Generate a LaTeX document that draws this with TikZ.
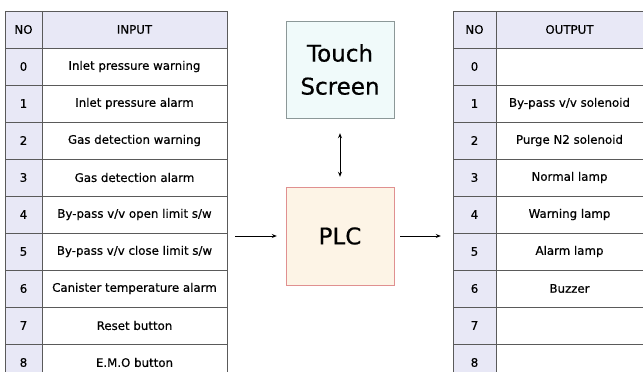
\documentclass[tikz,border=0pt]{standalone}
\usepackage{fontspec}
\setmainfont{DejaVu Sans}
\newfontface\cellfont{DejaVu Sans}[FakeBold=0.5]
\usetikzlibrary{arrows.meta,positioning}
\definecolor{HeadFill}{HTML}{E8E8F6}
\definecolor{GridLine}{HTML}{5A5A5A}
\definecolor{TouchFill}{HTML}{F0FAFA}
\definecolor{TouchLine}{HTML}{8C9898}
\definecolor{PlcFill}{HTML}{FDF4E6}
\definecolor{PlcLine}{HTML}{E09090}
\tikzset{>={Stealth[length=5pt,width=4pt]},every node/.style={font=\cellfont\fontsize{11.8}{13}\selectfont},
 nocell/.style={draw=GridLine,fill=HeadFill,minimum width=37pt,minimum height=37pt,inner sep=0pt},
 txtcell/.style={draw=GridLine,minimum width=185pt,minimum height=37pt,inner sep=0pt},
 headcell/.style={txtcell,fill=HeadFill},
 outno/.style={nocell,minimum width=43pt},
 outcell/.style={txtcell,minimum width=147pt},
 unit/.style={minimum width=108pt,minimum height=97pt,align=center,
 font=\cellfont\fontsize{23}{33}\selectfont},
 link/.style={draw=black,line width=0.9pt}}
\begin{document}
\begin{tikzpicture}[x=1pt,y=-1pt]
\useasboundingbox (0,0) rectangle (643,372);
\clip (0,0) rectangle (643,372);
\node[nocell] (inhno) at (23.5,29.5) {NO};
\node[headcell] (inh) at (134.5,29.5) {INPUT};
\foreach \t [count=\k from 0] in {Inlet pressure warning,Inlet pressure alarm,
 Gas detection warning,Gas detection alarm,By-pass v/v open limit s/w,
 By-pass v/v close limit s/w,Canister temperature alarm,Reset button,E.M.O button}{
 \node[nocell] (inno\k) at (23.5,66.5+37*\k) {\k};
 \node[txtcell] (in\k) at (134.5,66.5+37*\k) {\t};
}
\node[outno] (outhno) at (474.5,29.5) {NO};
\node[outcell,fill=HeadFill] (outh) at (569.5,29.5) {OUTPUT};
\foreach \t [count=\k from 0] in {{},By-pass v/v solenoid,Purge N2 solenoid,
 Normal lamp,Warning lamp,Alarm lamp,Buzzer,{},{}}{
 \node[outno] (outno\k) at (474.5,66.5+37*\k) {\k};
 \node[outcell] (out\k) at (569.5,66.5+37*\k) {\t};
}
\node[unit,draw=TouchLine,fill=TouchFill] (touch) at (340,69.5) {Touch\\Screen};
\node[unit,draw=PlcLine,fill=PlcFill,minimum height=98pt] (plc) at (340,236) {PLC};
\draw[link,<->,shorten <=15pt,shorten >=10pt] (touch.south) -- (plc.north);
\draw[link,->] ([xshift=8pt]in5.east |- plc.west) -- ([xshift=-9pt]plc.west);
\draw[link,->] ([xshift=6pt]plc.east) -- ([xshift=-12pt]outno5.west |- plc.east);
\end{tikzpicture}
\end{document}
